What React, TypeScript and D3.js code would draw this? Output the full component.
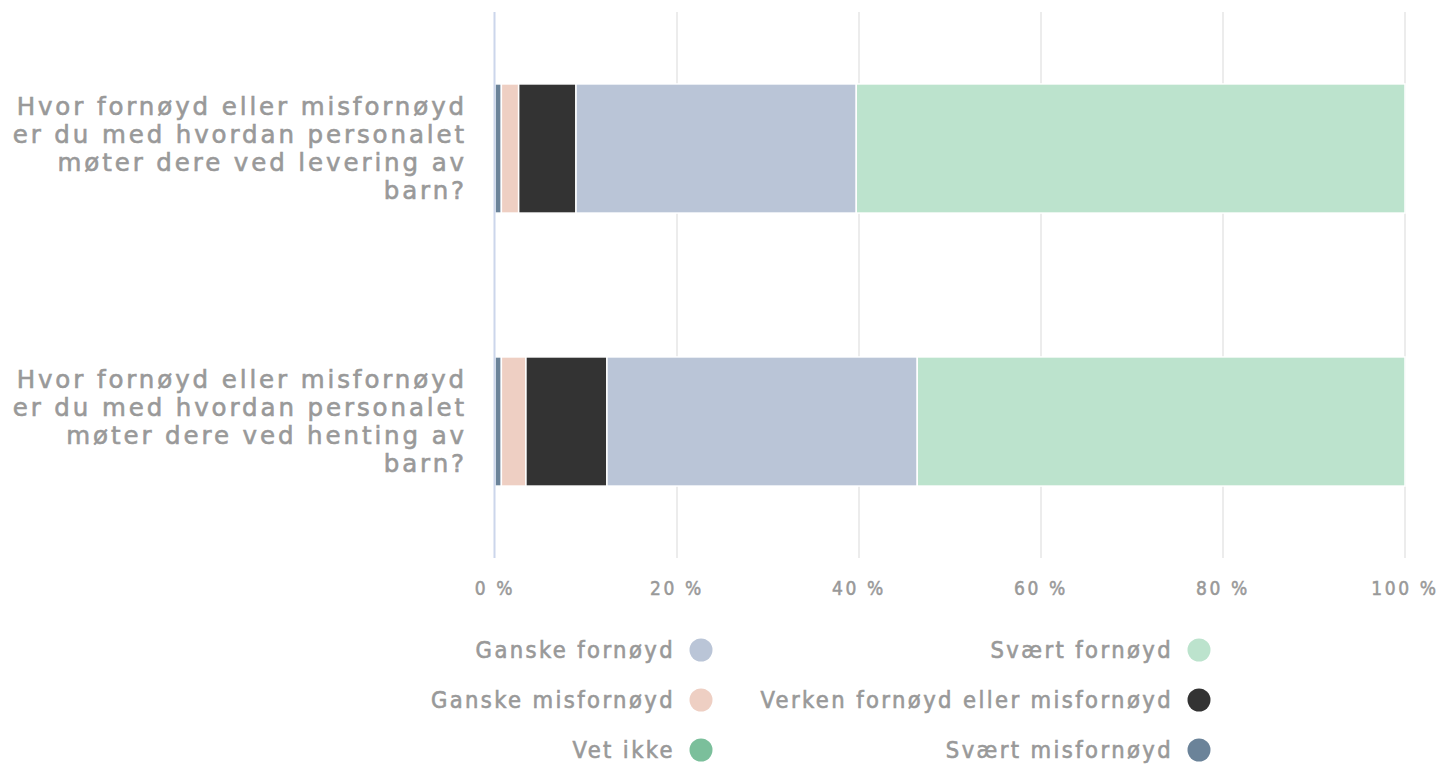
import * as d3 from "d3";

const categories = [
  "Hvor fornøyd eller misfornøyd er du med hvordan personalet møter dere ved levering av barn?",
  "Hvor fornøyd eller misfornøyd er du med hvordan personalet møter dere ved henting av barn?",
];

const categoryLines = [
  ["Hvor fornøyd eller misfornøyd", "er du med hvordan personalet", "møter dere ved levering av", "barn?"],
  ["Hvor fornøyd eller misfornøyd", "er du med hvordan personalet", "møter dere ved henting av", "barn?"],
];

// stacking order, left to right
const seriesNames = [
  "Svært misfornøyd",
  "Vet ikke",
  "Ganske misfornøyd",
  "Verken fornøyd eller misfornøyd",
  "Ganske fornøyd",
  "Svært fornøyd",
];

const seriesColors = ["#6b8399", "#7bbf9b", "#eecfc3", "#333333", "#bac5d7", "#bce3cd"];

// percent per category, same order as seriesNames
const svaertMisfornoyd = [0.7, 0.7];
const vetIkke = [0, 0];
const ganskeMisfornoyd = [1.9, 2.7];
const verken = [6.3, 8.9];
const ganskeFornoyd = [30.8, 34.1];
const svaertFornoyd = [60.3, 53.6];

const ticks = [0, 20, 40, 60, 80, 100];

// legend reading order (row by row, two columns)
const legendOrder = [
  "Ganske fornøyd",
  "Svært fornøyd",
  "Ganske misfornøyd",
  "Verken fornøyd eller misfornøyd",
  "Vet ikke",
  "Svært misfornøyd",
];

const W = 1445;
const H = 764;
const textColor = "#999999";
const font = "DejaVu Sans, Verdana, sans-serif";
const condensed = "DejaVu Sans Condensed, DejaVu Sans, sans-serif";

export default function App() {
  const x = d3.scaleLinear().domain([0, 100]).range([495, 1405]);
  const y = d3.scaleBand().domain(categories).range([12, 558]).padding(0);
  const barH = y.bandwidth() * 0.473;

  const rows = categories.map((c, i) => {
    const r: Record<string, any> = { cat: c };
    const cols = [svaertMisfornoyd, vetIkke, ganskeMisfornoyd, verken, ganskeFornoyd, svaertFornoyd];
    seriesNames.forEach((s, j) => (r[s] = cols[j][i]));
    return r;
  });
  const stacked = d3.stack<any>().keys(seriesNames)(rows);
  const color = d3.scaleOrdinal<string, string>().domain(seriesNames).range(seriesColors);

  return (
    <div style={{ position: "absolute", left: 0, top: 0 }}>
      <svg width={W} height={H} style={{ display: "block", fontFamily: font }}>
        {ticks.slice(1).map((t) => (
          <line key={t} x1={x(t)} x2={x(t)} y1={12} y2={558} stroke="#e6e6e6" strokeWidth={1.5} />
        ))}
        {stacked.map((s) =>
          s
            .filter((d) => d[1] - d[0] > 0)
            .map((d, i) => {
              const cat = d.data.cat;
              const cy = (y(cat) as number) + y.bandwidth() / 2;
              return (
                <rect
                  key={s.key + i}
                  x={x(d[0])}
                  y={cy - barH / 2}
                  width={x(d[1]) - x(d[0])}
                  height={barH}
                  fill={color(s.key)}
                  stroke="#ffffff"
                  strokeWidth={1.5}
                />
              );
            })
        )}
        <line x1={494.5} x2={494.5} y1={12} y2={558} stroke="#ccd6eb" strokeWidth={2} />
        {categories.map((c, i) => {
          const cy = (y(c) as number) + y.bandwidth() / 2;
          const lines = categoryLines[i];
          const lh = 28;
          const top = cy - ((lines.length - 1) * lh) / 2;
          return (
            <text
              key={c}
              textAnchor="end"
              fill={textColor}
              stroke={textColor}
              strokeWidth={0.6}
              fontSize={24.5}
              letterSpacing={2.9}
            >
              {lines.map((l, k) => (
                <tspan key={k} x={467} y={top + k * lh + 8}>
                  {l}
                </tspan>
              ))}
            </text>
          );
        })}
        {ticks.map((t) => (
          <text
            key={t}
            x={x(t)}
            y={595}
            textAnchor="middle"
            fill={textColor}
            stroke={textColor}
            strokeWidth={0.5}
            fontSize={19}
            letterSpacing={2.6}
            fontFamily={condensed}
          >
            {t} %
          </text>
        ))}
        {legendOrder.map((name, i) => {
          const col = i % 2;
          const row = Math.floor(i / 2);
          const cx = col === 0 ? 701 : 1199;
          const cy = 650 + row * 50;
          return (
            <g key={name}>
              <circle cx={cx} cy={cy} r={11.5} fill={color(name)} />
              <text
                x={cx - 26}
                y={cy + 8}
                textAnchor="end"
                fill={textColor}
                stroke={textColor}
                strokeWidth={0.6}
                fontSize={23.5}
                letterSpacing={2.4}
                fontFamily={condensed}
              >
                {name}
              </text>
            </g>
          );
        })}
      </svg>
    </div>
  );
}
